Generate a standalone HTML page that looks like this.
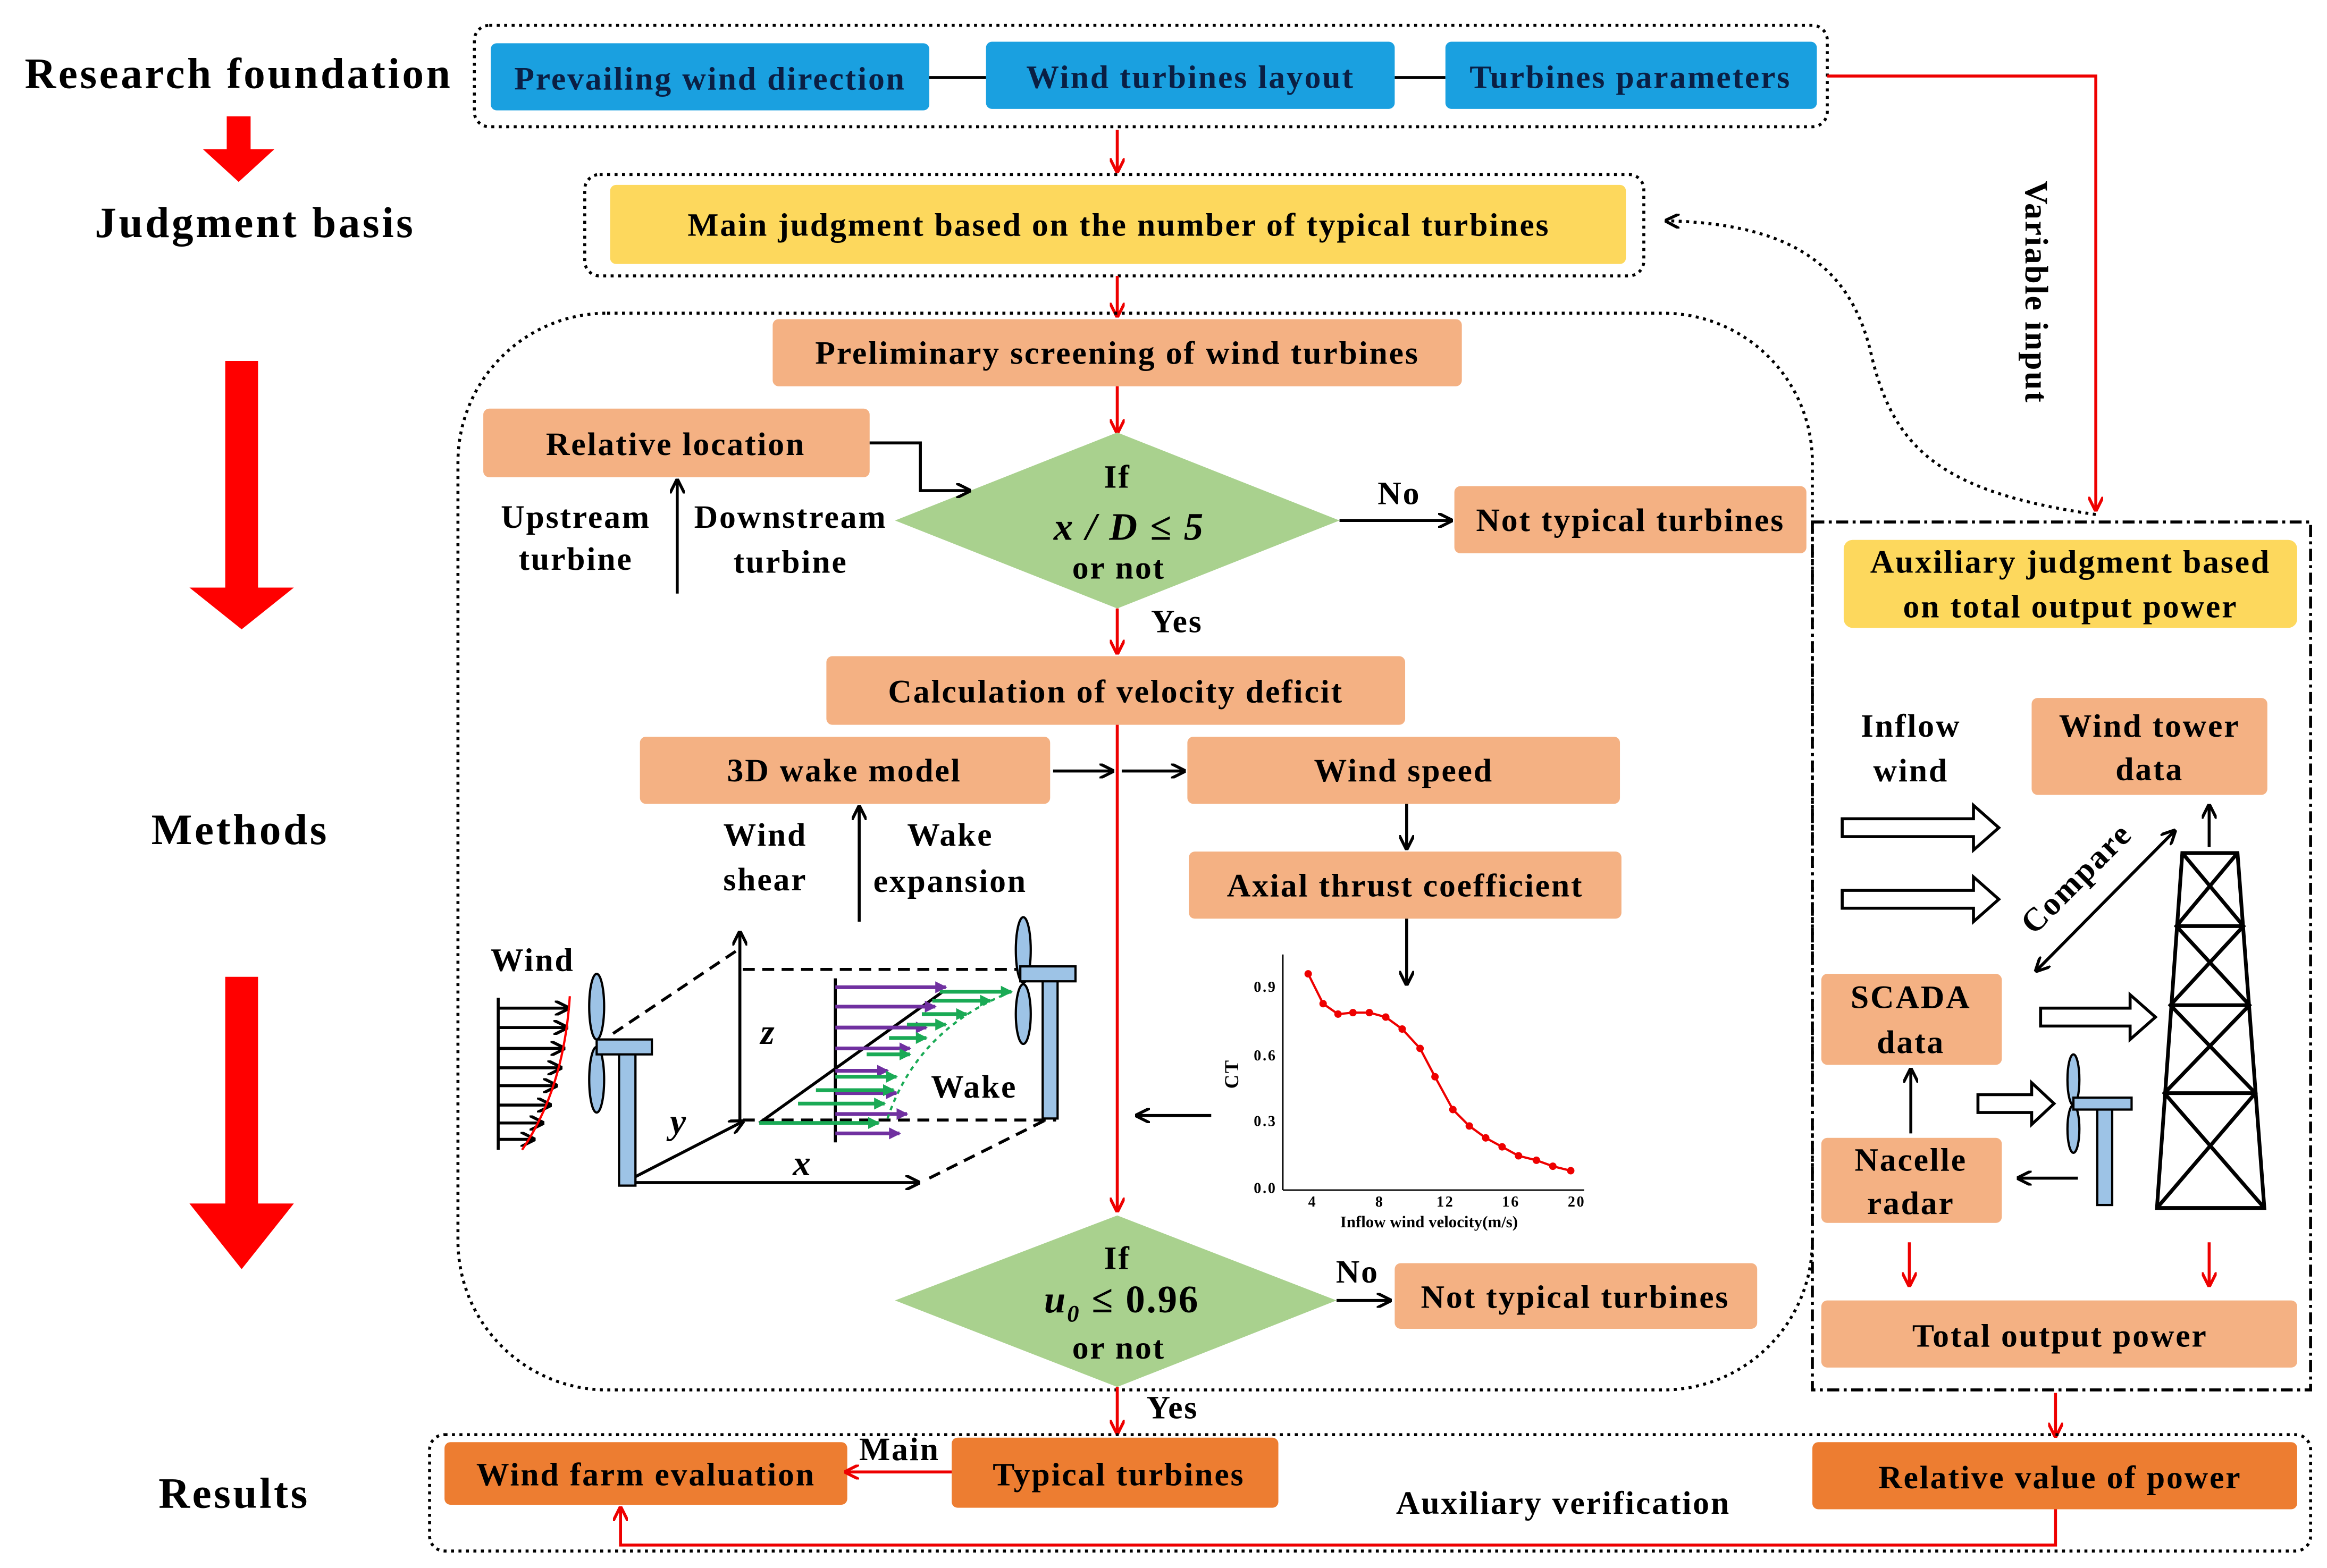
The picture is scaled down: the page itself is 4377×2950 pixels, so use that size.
<!DOCTYPE html>
<html><head><meta charset="utf-8"><style>
html,body{margin:0;padding:0;background:#fff;}
svg{display:block;}
text{font-family:"Liberation Serif",serif;font-weight:bold;letter-spacing:1px;}
.t{letter-spacing:1.6px;}
</style></head><body>
<svg width="4377" height="2950" viewBox="0 0 1560 1051.4" preserveAspectRatio="none" xmlns="http://www.w3.org/2000/svg">
<defs>
<marker id="ar" markerWidth="10" markerHeight="10" refX="9" refY="5" orient="auto" markerUnits="userSpaceOnUse"><path d="M0,0 L10,5 L0,10" fill="none" stroke="#e00" stroke-width="2"/></marker>
<marker id="ab" markerWidth="10" markerHeight="10" refX="9" refY="5" orient="auto" markerUnits="userSpaceOnUse"><path d="M0,0 L10,5 L0,10" fill="none" stroke="#000" stroke-width="2"/></marker>
<marker id="ag" markerWidth="8" markerHeight="8" refX="7" refY="4" orient="auto" markerUnits="userSpaceOnUse"><path d="M0,0 L8,4 L0,8z" fill="#1aaa55"/></marker>
<marker id="ap" markerWidth="8" markerHeight="8" refX="7" refY="4" orient="auto" markerUnits="userSpaceOnUse"><path d="M0,0 L8,4 L0,8z" fill="#7030a0"/></marker>
</defs>
<g font-size="29" text-anchor="middle" fill="#000" class="t">
<text x="160" y="59" class="t">Research foundation</text>
<text x="171" y="159" class="t">Judgment basis</text>
<text x="161" y="566" class="t">Methods</text>
<text x="157" y="1011" class="t">Results</text>
</g>
<g fill="#f00">
<path d="M152,78 h16 v22 h16 l-24,22 l-24,-22 h16z"/>
<path d="M151,242 h22 v152 h24 l-35,28 l-35,-28 h24z"/>
<path d="M151,655 h22 v152 h24 l-35,44 l-35,-44 h24z"/>
</g>
<rect x="318" y="17" width="907" height="68" rx="10" fill="none" stroke="#000" stroke-width="2" stroke-dasharray="2,3"/>
<line x1="623" y1="52" x2="661" y2="52" stroke="#000" stroke-width="2"/>
<line x1="935" y1="52" x2="969" y2="52" stroke="#000" stroke-width="2"/>
<g fill="#1aa0e0"><rect x="329" y="29" width="294" height="45" rx="4"/><rect x="661" y="28" width="274" height="45" rx="4"/><rect x="969" y="28" width="249" height="45" rx="4"/></g>
<g font-size="22" text-anchor="middle" fill="#0a1f44">
<text x="476" y="60">Prevailing wind direction</text><text x="798" y="59">Wind turbines layout</text><text x="1093" y="59">Turbines parameters</text></g>
<polyline points="1225,51 1405,51 1405,342" fill="none" stroke="#e00" stroke-width="2" marker-end="url(#ar)"/>
<text x="0" y="0" font-size="22" transform="translate(1358,196) rotate(90)" text-anchor="middle">Variable input</text>
<line x1="749" y1="87" x2="749" y2="115" stroke="#e00" stroke-width="2" marker-end="url(#ar)"/>
<rect x="392" y="117" width="710" height="68" rx="10" fill="none" stroke="#000" stroke-width="2" stroke-dasharray="2,3"/>
<rect x="409" y="124" width="681" height="53" rx="4" fill="#fdd85d"/>
<text x="750" y="158" font-size="22" text-anchor="middle">Main judgment based on the number of typical turbines</text>
<path d="M1405,345 C1300,330 1270,300 1255,240 C1240,170 1190,150 1117,148" fill="none" stroke="#000" stroke-width="2" stroke-dasharray="2,3" marker-end="url(#ab)"/>
<line x1="749" y1="185" x2="749" y2="212" stroke="#e00" stroke-width="2" marker-end="url(#ar)"/>
<rect x="307" y="210" width="908" height="722" rx="100" fill="none" stroke="#000" stroke-width="2" stroke-dasharray="2,3"/>
<g fill="#f4b183">
<rect x="518" y="214" width="462" height="45" rx="4"/>
<rect x="324" y="274" width="259" height="46" rx="4"/>
<rect x="975" y="326" width="236" height="45" rx="4"/>
<rect x="554" y="440" width="388" height="46" rx="4"/>
<rect x="429" y="494" width="275" height="45" rx="4"/>
<rect x="796" y="494" width="290" height="45" rx="4"/>
<rect x="797" y="571" width="290" height="45" rx="4"/>
<rect x="935" y="847" width="243" height="44" rx="4"/>
<rect x="1362" y="468" width="158" height="65" rx="4"/>
<rect x="1221" y="653" width="121" height="61" rx="4"/>
<rect x="1221" y="763" width="121" height="57" rx="4"/>
<rect x="1221" y="872" width="319" height="45" rx="4"/>
</g>
<g font-size="22" text-anchor="middle">
<text x="749" y="244">Preliminary screening of wind turbines</text>
<text x="453" y="305">Relative location</text>
<text x="1093" y="356">Not typical turbines</text>
<text x="748" y="471">Calculation of velocity deficit</text>
<text x="566" y="524">3D wake model</text>
<text x="941" y="524">Wind speed</text>
<text x="942" y="601">Axial thrust coefficient</text>
<text x="1056" y="877">Not typical turbines</text>
<text x="1441" y="494">Wind tower</text><text x="1441" y="523">data</text>
<text x="1281" y="676">SCADA</text><text x="1281" y="706">data</text>
<text x="1281" y="785">Nacelle</text><text x="1281" y="814">radar</text>
<text x="1381" y="903">Total output power</text>
<text x="386" y="354">Upstream</text><text x="386" y="382">turbine</text>
<text x="530" y="354">Downstream</text><text x="530" y="384">turbine</text>
<text x="513" y="567">Wind</text><text x="513" y="597">shear</text>
<text x="637" y="567">Wake</text><text x="637" y="598">expansion</text>
<text x="938" y="338">No</text><text x="789" y="424">Yes</text>
<text x="910" y="860">No</text><text x="786" y="951">Yes</text>
<text x="1281" y="494">Inflow</text><text x="1281" y="524">wind</text>
<text x="357" y="651">Wind</text>
<text x="653" y="736">Wake</text>
</g>
<line x1="749" y1="259" x2="749" y2="290" stroke="#e00" stroke-width="2" marker-end="url(#ar)"/>
<polygon points="749,290 898,349 749,408 600,349" fill="#a9d18e"/>
<text x="749" y="327" font-size="22" text-anchor="middle">If</text>
<text x="757" y="362" font-size="26" text-anchor="middle" font-weight="normal" font-style="italic">x / D ≤ 5</text>
<text x="750" y="388" font-size="22" text-anchor="middle">or not</text>
<polyline points="583,297 617,297 617,329 650,329" fill="none" stroke="#000" stroke-width="2" marker-end="url(#ab)"/>
<line x1="454" y1="398" x2="454" y2="322" stroke="#000" stroke-width="2" marker-end="url(#ab)"/>
<line x1="898" y1="349" x2="973" y2="349" stroke="#000" stroke-width="2" marker-end="url(#ab)"/>
<line x1="749" y1="408" x2="749" y2="438" stroke="#e00" stroke-width="2" marker-end="url(#ar)"/>
<line x1="706" y1="517" x2="746" y2="517" stroke="#000" stroke-width="2" marker-end="url(#ab)"/>
<line x1="752" y1="517" x2="794" y2="517" stroke="#000" stroke-width="2" marker-end="url(#ab)"/>
<line x1="749" y1="486" x2="749" y2="812" stroke="#e00" stroke-width="2" marker-end="url(#ar)"/>
<line x1="943" y1="539" x2="943" y2="569" stroke="#000" stroke-width="2" marker-end="url(#ab)"/>
<line x1="943" y1="616" x2="943" y2="660" stroke="#000" stroke-width="2" marker-end="url(#ab)"/>
<line x1="576" y1="618" x2="576" y2="541" stroke="#000" stroke-width="2" marker-end="url(#ab)"/>
<line x1="812" y1="748" x2="762" y2="748" stroke="#000" stroke-width="2" marker-end="url(#ab)"/>
<g stroke="#000" stroke-width="1" fill="none">
<line x1="860" y1="640" x2="860" y2="798"/><line x1="860" y1="798" x2="1062" y2="798"/>
</g>
<g font-size="10" text-anchor="end" style="letter-spacing:0">
<text x="856" y="665">0.9</text><text x="856" y="711">0.6</text><text x="856" y="755">0.3</text><text x="856" y="800">0.0</text>
</g>
<g font-size="10" text-anchor="middle">
<text x="880" y="809">4</text><text x="925" y="809">8</text><text x="969" y="809">12</text><text x="1013" y="809">16</text><text x="1057" y="809">20</text>
<text x="958" y="823" font-size="11" style="letter-spacing:0">Inflow wind velocity(m/s)</text>
<text x="0" y="0" font-size="13" transform="translate(830,720) rotate(-90)">CT</text>
</g>
<polyline points="877,653 887,673 897,680 907,679 918,679 929,682 940,690 952,703 962,722 974,744 985,755 996,763 1007,769 1018,775 1030,778 1041,782 1053,785" fill="none" stroke="#e00" stroke-width="1.5"/>
<g fill="#e00"><circle cx="877" cy="653" r="2.5"/><circle cx="887" cy="673" r="2.5"/><circle cx="897" cy="680" r="2.5"/><circle cx="907" cy="679" r="2.5"/><circle cx="918" cy="679" r="2.5"/><circle cx="929" cy="682" r="2.5"/><circle cx="940" cy="690" r="2.5"/><circle cx="952" cy="703" r="2.5"/><circle cx="962" cy="722" r="2.5"/><circle cx="974" cy="744" r="2.5"/><circle cx="985" cy="755" r="2.5"/><circle cx="996" cy="763" r="2.5"/><circle cx="1007" cy="769" r="2.5"/><circle cx="1018" cy="775" r="2.5"/><circle cx="1030" cy="778" r="2.5"/><circle cx="1041" cy="782" r="2.5"/><circle cx="1053" cy="785" r="2.5"/></g>
<g stroke="#000" stroke-width="2" fill="none">
<line x1="334" y1="669" x2="334" y2="771"/>
<g marker-end="url(#ab)"><line x1="334" y1="676" x2="381" y2="676"/><line x1="334" y1="689" x2="380" y2="689"/><line x1="334" y1="703" x2="378" y2="703"/><line x1="334" y1="716" x2="376" y2="716"/><line x1="334" y1="728" x2="373" y2="728"/><line x1="334" y1="741" x2="369" y2="741"/><line x1="334" y1="753" x2="364" y2="753"/><line x1="334" y1="764" x2="358" y2="764"/></g>
</g>
<path d="M382,668 Q378,730 350,771" stroke="#f00" stroke-width="1.5" fill="none"/>
<g stroke="#000" stroke-width="2" fill="none">
<line x1="426" y1="793" x2="616" y2="793" marker-end="url(#ab)"/>
<line x1="426" y1="789" x2="498" y2="752" marker-end="url(#ab)"/>
<line x1="496" y1="751" x2="496" y2="625" marker-end="url(#ab)"/>
<g stroke-dasharray="8,5"><line x1="411" y1="693" x2="496" y2="636"/><line x1="623" y1="790" x2="701" y2="751"/><line x1="498" y1="650" x2="682" y2="650"/><line x1="498" y1="751" x2="708" y2="751"/></g>
<line x1="560" y1="656" x2="560" y2="766"/>
<line x1="509" y1="753" x2="632" y2="665"/>
</g>
<g stroke="#7030a0" stroke-width="2.5" marker-end="url(#ap)"><line x1="560" y1="662" x2="634" y2="662"/><line x1="560" y1="675" x2="627" y2="675"/><line x1="560" y1="689" x2="621" y2="689"/><line x1="560" y1="703" x2="610" y2="703"/><line x1="560" y1="718" x2="595" y2="718"/><line x1="560" y1="733" x2="601" y2="733"/><line x1="560" y1="747" x2="608" y2="747"/><line x1="560" y1="760" x2="603" y2="760"/></g>
<g stroke="#1aaa55" stroke-width="2.5" marker-end="url(#ag)"><line x1="630" y1="665" x2="678" y2="665"/><line x1="625" y1="671" x2="664" y2="671"/><line x1="618" y1="680" x2="648" y2="680"/><line x1="608" y1="687" x2="634" y2="687"/><line x1="596" y1="696" x2="621" y2="696"/><line x1="581" y1="707" x2="610" y2="707"/><line x1="560" y1="722" x2="601" y2="722"/><line x1="547" y1="731" x2="599" y2="731"/><line x1="535" y1="740" x2="593" y2="740"/><line x1="509" y1="753" x2="589" y2="753"/></g>
<path d="M678,665 Q615,690 595,750" stroke="#1aaa55" stroke-width="1.5" stroke-dasharray="3,3" fill="none"/>
<g fill="#9dc3e6" stroke="#000" stroke-width="1.5">
<ellipse cx="400" cy="675" rx="5" ry="22"/><ellipse cx="400" cy="724" rx="5" ry="22"/>
<rect x="415" y="705" width="11" height="90"/><rect x="400" y="697" width="37" height="10"/>
<ellipse cx="686" cy="637" rx="5" ry="22"/><ellipse cx="686" cy="680" rx="5" ry="20"/>
<rect x="699" y="656" width="10" height="94"/><rect x="684" y="648" width="37" height="10"/>
</g>
<g font-size="24" font-style="italic" font-weight="normal" text-anchor="middle"><text x="515" y="700">z</text><text x="455" y="760">y</text><text x="538" y="788">x</text></g>
<polygon points="749,815 896,872 749,930 600,872" fill="#a9d18e"/>
<text x="749" y="851" font-size="22" text-anchor="middle">If</text>
<text x="752" y="880" font-size="26" text-anchor="middle" font-weight="normal" font-style="italic">u<tspan font-size="16" dy="6">0</tspan><tspan dy="-6" font-style="normal"> ≤ 0.96</tspan></text>
<text x="750" y="911" font-size="22" text-anchor="middle">or not</text>
<line x1="896" y1="872" x2="932" y2="872" stroke="#000" stroke-width="2" marker-end="url(#ab)"/>
<line x1="749" y1="930" x2="749" y2="961" stroke="#e00" stroke-width="2" marker-end="url(#ar)"/>
<rect x="1215" y="350" width="334" height="582" fill="none" stroke="#000" stroke-width="2" stroke-dasharray="8,3,2,3"/>
<rect x="1236" y="362" width="304" height="59" rx="6" fill="#fdd85d"/>
<text x="1388" y="384" font-size="22" text-anchor="middle">Auxiliary judgment based</text>
<text x="1388" y="414" font-size="22" text-anchor="middle">on total output power</text>
<g fill="#fff" stroke="#000" stroke-width="2">
<path d="M1235,549 h88 v-9 l17,15 l-17,15 v-9 h-88z"/>
<path d="M1235,597 h88 v-9 l17,15 l-17,15 v-9 h-88z"/>
<path d="M1368,676 h60 v-9 l17,15 l-17,15 v-9 h-60z"/>
<path d="M1326,734 h36 v-8 l15,14 l-15,14 v-8 h-36z"/>
</g>
<line x1="1365" y1="651" x2="1458" y2="557" stroke="#000" stroke-width="2" marker-end="url(#ab)"/>
<line x1="1458" y1="557" x2="1365" y2="651" stroke="#000" stroke-width="2" marker-end="url(#ab)"/>
<text x="0" y="0" font-size="22" transform="translate(1397,594) rotate(-45)" text-anchor="middle">Compare</text>
<line x1="1481" y1="568" x2="1481" y2="540" stroke="#000" stroke-width="2" marker-end="url(#ab)"/>
<line x1="1281" y1="760" x2="1281" y2="717" stroke="#000" stroke-width="2" marker-end="url(#ab)"/>
<line x1="1393" y1="790" x2="1353" y2="790" stroke="#000" stroke-width="2" marker-end="url(#ab)"/>
<g stroke="#000" stroke-width="2.5" fill="none">
<polygon points="1463,572 1500,572 1518,810 1446,810"/>
<line x1="1459" y1="621" x2="1504" y2="621"/><line x1="1455" y1="674" x2="1508" y2="674"/><line x1="1451" y1="733" x2="1512" y2="733"/>
<polyline points="1463,572 1504,621 1455,674 1512,733 1446,810"/>
<polyline points="1500,572 1459,621 1508,674 1451,733 1518,810"/>
</g>
<g fill="#9dc3e6" stroke="#000" stroke-width="1.5">
<ellipse cx="1390" cy="724" rx="4" ry="17"/><ellipse cx="1390" cy="757" rx="4" ry="16"/>
<rect x="1406" y="742" width="10" height="66"/><rect x="1390" y="736" width="39" height="8"/>
</g>
<line x1="1280" y1="833" x2="1280" y2="862" stroke="#e00" stroke-width="2" marker-end="url(#ar)"/>
<line x1="1481" y1="833" x2="1481" y2="862" stroke="#e00" stroke-width="2" marker-end="url(#ar)"/>
<line x1="1378" y1="934" x2="1378" y2="963" stroke="#e00" stroke-width="2" marker-end="url(#ar)"/>
<rect x="288" y="962" width="1261" height="78" rx="10" fill="none" stroke="#000" stroke-width="2" stroke-dasharray="2,3"/>
<g fill="#ed7d31"><rect x="298" y="967" width="270" height="42" rx="4"/><rect x="638" y="964" width="219" height="47" rx="4"/><rect x="1215" y="967" width="325" height="45" rx="4"/></g>
<g font-size="22" text-anchor="middle"><text x="433" y="996">Wind farm evaluation</text><text x="750" y="996">Typical turbines</text><text x="1381" y="998">Relative value of power</text>
<text x="603" y="979">Main</text><text x="1048" y="1015">Auxiliary verification</text></g>
<line x1="638" y1="987" x2="567" y2="987" stroke="#e00" stroke-width="2" marker-end="url(#ar)"/>
<polyline points="1378,1012 1378,1036 416,1036 416,1011" fill="none" stroke="#e00" stroke-width="2" marker-end="url(#ar)"/>
</svg>
</body></html>
